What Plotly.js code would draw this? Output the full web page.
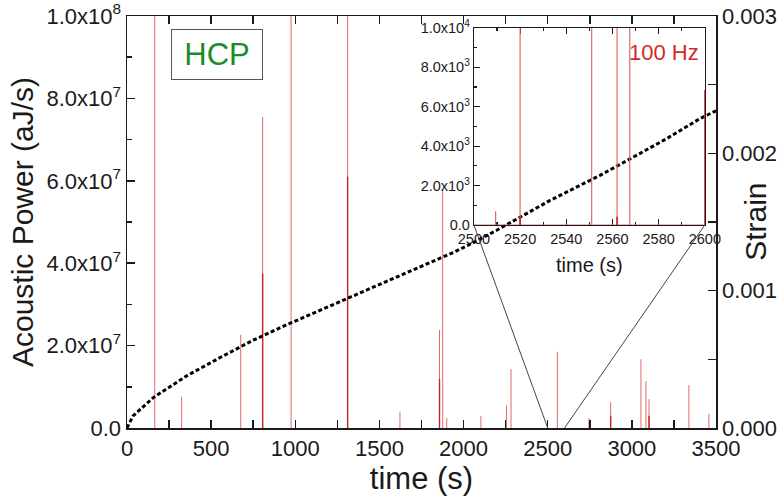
<!DOCTYPE html>
<html>
<head>
<meta charset="utf-8">
<script src="https://cdn.plot.ly/plotly-3.0.1.min.js"></script>
<style>html,body{margin:0;padding:0;background:#fff;}#chart{width:784px;height:499px;}</style>
</head>
<body>
<div id="chart"></div>
<script>
// ---- Data ----
// Strain curve (right axis)
var strainTime  = [0, 36, 156, 355, 553, 751, 949, 1147, 1345, 1543, 1741, 1939, 2058, 2197, 2514, 2811, 3009, 3207, 3405, 3500];
var strainValue = [0, 0.000088, 0.000221, 0.00038, 0.000513, 0.00064, 0.000752, 0.000858, 0.000964, 0.001068, 0.001172, 0.001278, 0.00135, 0.00144, 0.001657, 0.00184, 0.001973, 0.002107, 0.002253, 0.00231];

// Acoustic power spikes (main panel), light red
var powerTime  = [165, 325, 676, 806, 975, 1311, 1622, 1857, 1876, 1900, 2103, 2255, 2282, 2557, 2745, 2874, 3054, 3084, 3102, 3339, 3458];
var powerValue = [1.2e8, 0.76e7, 2.26e7, 7.55e7, 1.2e8, 1.2e8, 0.4e7, 2.38e7, 5.78e7, 0.24e7, 0.29e7, 0.55e7, 1.43e7, 1.85e7, 0.24e7, 0.63e7, 1.67e7, 1.14e7, 0.7e7, 1.04e7, 0.34e7];
// darker overlapping parts of spikes
var powerDarkTime  = [806, 1311, 1857, 2874, 3102];
var powerDarkValue = [3.75e7, 6.1e7, 1.19e7, 0.3e7, 0.3e7];

// Inset (100 Hz) spikes
var insetTime  = [2509.4, 2520, 2551, 2562, 2567.5];
var insetValue = [700, 1.2e4, 1.2e4, 1.2e4, 1.2e4];
var insetDarkTime  = [2520, 2562, 2600];
var insetDarkValue = [350, 420, 6850];

// Axis ranges and tick labels
var mainXRange = [0, 3500];
var mainYRange = [0, 1e8];
var strainRange = [0, 0.003];
var insetXRange = [2500, 2600];
var insetYRange = [0, 1e4];

var mainYTicks  = [0, 2e7, 4e7, 6e7, 8e7, 1e8];
var mainYLabels = ['0.0', '2.0x10<sup>7</sup>', '4.0x10<sup>7</sup>', '6.0x10<sup>7</sup>', '8.0x10<sup>7</sup>', '1.0x10<sup>8</sup>'];
var strainTicks  = [0, 0.001, 0.002, 0.003];
var strainLabels = ['0.000', '0.001', '0.002', '0.003'];
var insetYTicks  = [0, 2e3, 4e3, 6e3, 8e3, 1e4];
var insetYLabels = ['0.0', '2.0x10<sup>3</sup>', '4.0x10<sup>3</sup>', '6.0x10<sup>3</sup>', '8.0x10<sup>3</sup>', '1.0x10<sup>4</sup>'];

// ---- helpers ----
function spikeXY(ts, vs) {
  var x = [], y = [];
  for (var i = 0; i < ts.length; i++) { x.push(ts[i], ts[i], null); y.push(0, vs[i], null); }
  return {x: x, y: y};
}
function connectedSpikeXY(ts, vs, x0, x1) {
  var x = [x0], y = [0];
  for (var i = 0; i < ts.length; i++) { x.push(ts[i], ts[i], ts[i]); y.push(0, vs[i], 0); }
  x.push(x1); y.push(0);
  return {x: x, y: y};
}

var FONT = 'Liberation Sans, Arial, sans-serif';
var INK = '#1a1a1a';
var LIGHT_RED = '#e06a6a';
var DARK_RED = '#c2262b';

var mainSp = spikeXY(powerTime, powerValue);
var mainDark = spikeXY(powerDarkTime, powerDarkValue);
var inSp = connectedSpikeXY(insetTime, insetValue, insetXRange[0], insetXRange[1]);
var inDark = spikeXY(insetDarkTime, insetDarkValue);

var traces = [
  {x: mainSp.x, y: mainSp.y, xaxis: 'x', yaxis: 'y', mode: 'lines', line: {color: LIGHT_RED, width: 1}, hoverinfo: 'skip', showlegend: false},
  {x: mainDark.x, y: mainDark.y, xaxis: 'x', yaxis: 'y', mode: 'lines', line: {color: DARK_RED, width: 1.4}, hoverinfo: 'skip', showlegend: false},
  {x: strainTime, y: strainValue, xaxis: 'x', yaxis: 'y3', mode: 'lines', line: {color: '#000', width: 3, dash: '4px,2.5px'}, hoverinfo: 'skip', showlegend: false},
  {x: inSp.x, y: inSp.y, xaxis: 'x2', yaxis: 'y2', mode: 'lines', line: {color: LIGHT_RED, width: 1.2}, hoverinfo: 'skip', showlegend: false},
  {x: inDark.x, y: inDark.y, xaxis: 'x2', yaxis: 'y2', mode: 'lines', line: {color: DARK_RED, width: 1.6}, hoverinfo: 'skip', showlegend: false}
];

// inset domain (paper)
var insetDomX = [0.589, 0.981];
var insetDomY = [0.4927, 0.971];
function paperX(t) { return (t - mainXRange[0]) / (mainXRange[1] - mainXRange[0]); }

var axisCommon = {
  showgrid: false, zeroline: false, showline: true, linecolor: INK, linewidth: 1.5,
  ticks: 'inside', tickcolor: INK, tickwidth: 1.5
};

var layout = {
  width: 784, height: 499,
  margin: {l: 127, r: 68, t: 16, b: 71, pad: 0},
  paper_bgcolor: '#fff', plot_bgcolor: 'rgba(0,0,0,0)',
  font: {family: FONT, color: INK},
  showlegend: false,
  xaxis: Object.assign({}, axisCommon, {
    domain: [0, 1], range: mainXRange, anchor: 'y',
    tickmode: 'linear', tick0: 0, dtick: 500, ticklen: 8, mirror: 'allticks',
    minor: {tickmode: 'linear', tick0: 0, dtick: 250, ticklen: 4, ticks: 'inside', tickcolor: INK, tickwidth: 1.5},
    tickfont: {size: 22, family: FONT, color: INK},
    title: {text: 'time (s)', font: {size: 31, family: FONT, color: INK}, standoff: 4}
  }),
  yaxis: Object.assign({}, axisCommon, {
    domain: [0, 1], range: mainYRange, anchor: 'x',
    tickmode: 'array', tickvals: mainYTicks, ticktext: mainYLabels, ticklen: 8,
    minor: {tickmode: 'linear', tick0: 0, dtick: 1e7, ticklen: 5, ticks: 'inside', tickcolor: INK, tickwidth: 1.5},
    tickfont: {size: 22, family: FONT, color: INK},
    title: {text: 'Acoustic Power (aJ/s)', font: {size: 30, family: FONT, color: INK}, standoff: 4}
  }),
  yaxis3: Object.assign({}, axisCommon, {
    overlaying: 'y', side: 'right', range: strainRange, anchor: 'x',
    tickmode: 'array', tickvals: strainTicks, ticktext: strainLabels, ticklen: 8,
    minor: {tickmode: 'linear', tick0: 0, dtick: 0.0005, ticklen: 8, ticks: 'inside', tickcolor: INK, tickwidth: 1.5},
    tickfont: {size: 22, family: FONT, color: INK}
  }),
  xaxis2: Object.assign({}, axisCommon, {
    domain: insetDomX, range: insetXRange, anchor: 'y2', linewidth: 1.2, tickwidth: 1.2, layer: 'below traces',
    tickmode: 'linear', tick0: 2500, dtick: 20, ticklen: 6, mirror: 'allticks',
    minor: {tickmode: 'linear', tick0: 2500, dtick: 10, ticklen: 3, ticks: 'inside', tickcolor: INK, tickwidth: 1.2},
    tickfont: {size: 14.5, family: FONT, color: INK},
    title: {text: 'time (s)', font: {size: 20, family: FONT, color: INK}, standoff: 12}
  }),
  yaxis2: Object.assign({}, axisCommon, {
    domain: insetDomY, range: insetYRange, anchor: 'x2', linewidth: 1.2, tickwidth: 1.2,
    tickmode: 'array', tickvals: insetYTicks, ticktext: insetYLabels, ticklen: 6, mirror: true,
    minor: {tickmode: 'linear', tick0: 0, dtick: 1e3, ticklen: 3, ticks: 'inside', tickcolor: INK, tickwidth: 1.2},
    tickfont: {size: 14.5, family: FONT, color: INK}
  }),
  shapes: [
    {type: 'line', xref: 'paper', yref: 'paper', x0: insetDomX[0], y0: insetDomY[0], x1: paperX(insetXRange[0]), y1: 0, line: {color: '#444', width: 1}},
    {type: 'line', xref: 'paper', yref: 'paper', x0: insetDomX[1], y0: insetDomY[0], x1: paperX(insetXRange[1]), y1: 0, line: {color: '#444', width: 1}}
  ],
  annotations: [
    {text: 'HCP', xref: 'paper', yref: 'paper', x: 0.1528, y: 0.9066, xanchor: 'center', yanchor: 'middle', showarrow: false,
     font: {size: 31, family: FONT, color: '#1a8c2a'}, bordercolor: '#555', borderwidth: 1, borderpad: 0, width: 90, height: 49, bgcolor: '#fff'},
    {text: '100 Hz', xref: 'x2 domain', yref: 'y2 domain', x: 0.985, y: 0.875, xanchor: 'right', yanchor: 'middle', showarrow: false,
     font: {size: 22, family: FONT, color: '#d02a2a'}},
    {text: 'Strain', xref: 'paper', yref: 'paper', x: 1.066, y: 0.5, xanchor: 'center', yanchor: 'middle', textangle: -90, showarrow: false,
     font: {size: 30, family: FONT, color: INK}}
  ]
};

Plotly.newPlot('chart', traces, layout, {staticPlot: true, displayModeBar: false});
</script>
</body>
</html>
